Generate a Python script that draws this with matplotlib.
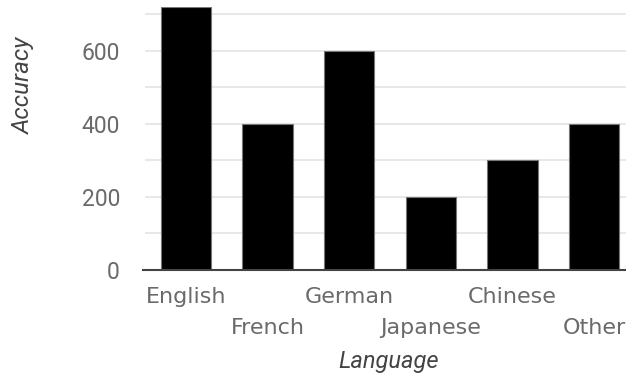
import matplotlib

matplotlib.use("Agg")
import matplotlib.pyplot as plt
import numpy as np

plt.rcParams["font.family"] = ["Roboto", "DejaVu Sans"]

languages = ["English", "French", "German", "Japanese", "Chinese", "Other"]
accuracy = [720, 400, 600, 200, 300, 400]
major_ticks = [0, 200, 400, 600]
minor_ticks = [100, 300, 500, 700]

fig = plt.figure(figsize=(6.26, 3.73), dpi=100)
ax = fig.add_axes([145 / 626, 103 / 373, 490 / 626, 263.3 / 373])

x = np.arange(len(languages))
ax.bar(x, accuracy, width=0.613, color="black", edgecolor="#777777",
       linewidth=0.8, zorder=3)

ax.set_xlim(-0.5, len(languages) - 0.5)
ax.set_ylim(0, 720)
ax.set_yticks(major_ticks)
ax.set_yticks(minor_ticks, minor=True)
ax.grid(True, axis="y", which="both", color="#e4e4e4", linewidth=1.2, zorder=0)

for s in ["top", "right", "left"]:
    ax.spines[s].set_visible(False)
ax.spines["bottom"].set_color("#444444")
ax.spines["bottom"].set_linewidth(1.5)
ax.spines["bottom"].set_zorder(4)
ax.spines["bottom"].set_bounds(-0.53, len(languages) - 0.5)

ax.tick_params(axis="y", which="both", length=0, pad=18, labelsize=16.5,
               labelcolor="#6a6a6a")
ax.tick_params(axis="x", length=0)

# staggered category labels, two rows
ax.set_xticks(x)
ax.set_xticklabels(["" for _ in languages])
for i, name in enumerate(languages):
    row = i % 2
    ax.annotate(name, xy=(i, 0), xycoords=("data", "axes fraction"),
                xytext=(0, -33 - 31.5 * row), textcoords="offset pixels",
                ha="center", va="baseline", fontsize=16, color="#6a6a6a",
                family="DejaVu Sans", annotation_clip=False)

fig.text(389 / 626, 1 - 368 / 373, "Language", ha="center", va="baseline",
         fontsize=17, style="italic", color="#444444")
fig.text(23 / 626, 1 - 85 / 373, "Accuracy", ha="center", va="center",
         rotation=90, fontsize=17.5, style="italic", color="#444444")

fig.savefig("out.png", dpi=100)
